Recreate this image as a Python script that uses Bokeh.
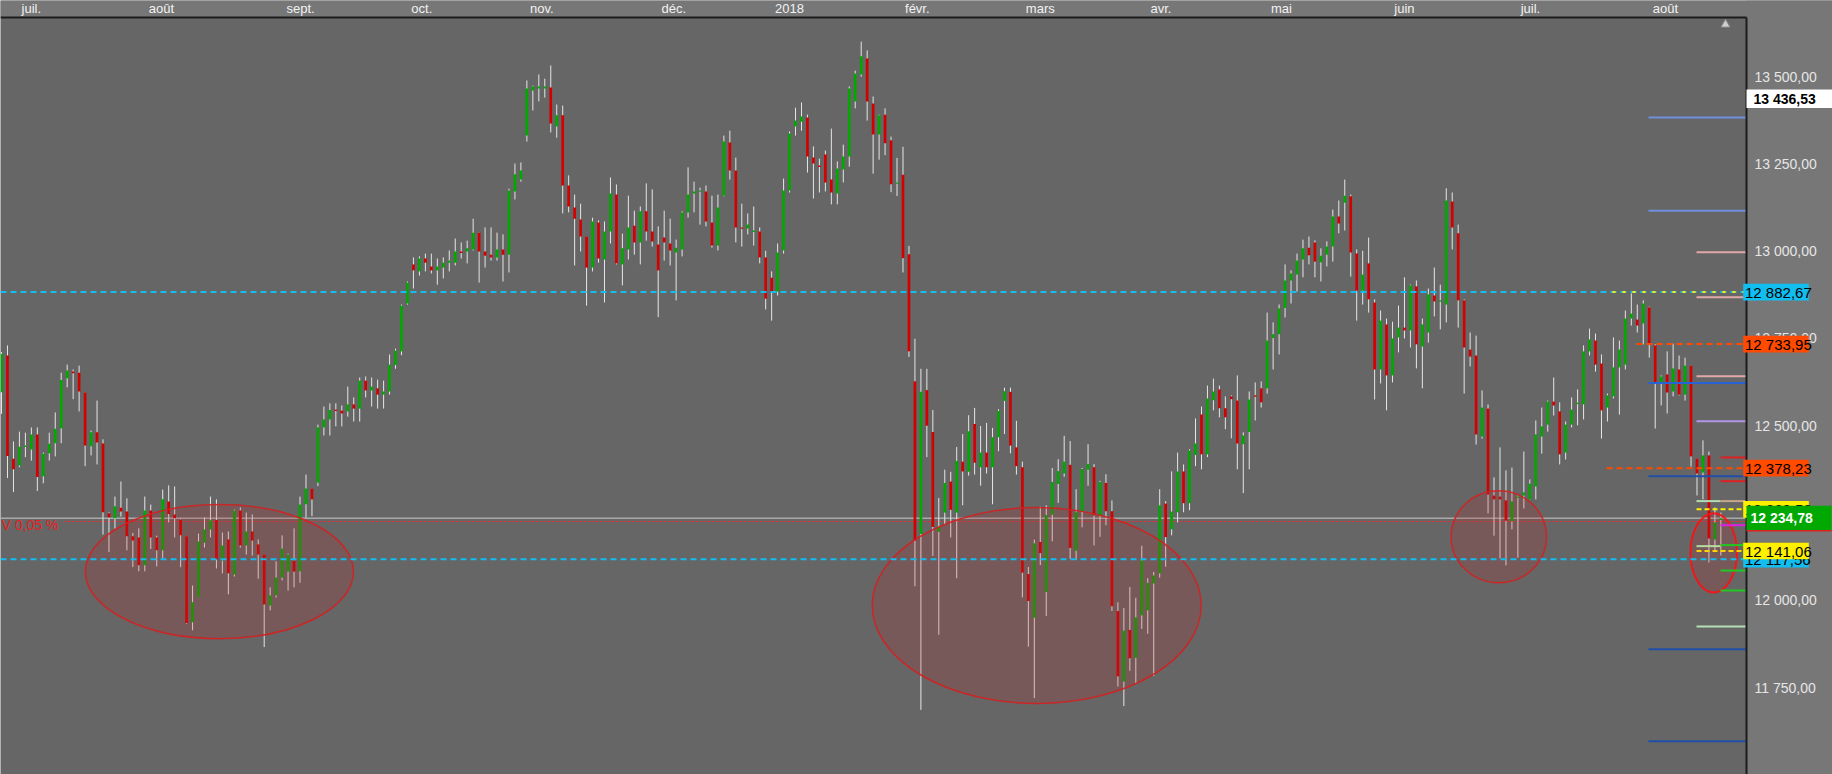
from bokeh.plotting import figure
from bokeh.models import ColumnDataSource, Range1d
from bokeh.core.properties import value
from bokeh.embed import file_html
from bokeh.resources import INLINE

# ---- daily OHLC, July 2017 -> August 2018 ----
opens = [
    12596, 12701, 12405, 12386, 12441, 12432, 12475, 12355, 12421, 12450,
    12493, 12636, 12655, 12652, 12595, 12441, 12481, 12449, 12249, 12235,
    12265, 12254, 12183, 12180, 12100, 12257, 12180, 12143, 12283, 12246,
    12231, 12183, 11937, 12009, 12165, 12203, 12230, 12114, 12174, 12074,
    12257, 12157, 12197, 12160, 12131, 11985, 12014, 12065, 12082, 12114,
    12083, 12275, 12320, 12337, 12495, 12518, 12546, 12543, 12541, 12561,
    12549, 12629, 12601, 12607, 12589, 12598, 12674, 12713, 12850, 12962,
    12942, 12979, 12956, 12945, 12953, 12967, 12967, 12999, 12999, 13005,
    13053, 12999, 12990, 12982, 13005, 12990, 13171, 13205, 13331, 13460,
    13466, 13466, 13469, 13357, 13389, 13188, 13125, 13091, 13042, 12953,
    13082, 12976, 13056, 13162, 12962, 13005, 13073, 13025, 13114, 13056,
    13019, 13039, 13022, 12996, 13005, 13111, 13165, 13171, 13171, 13082,
    13016, 13159, 13311, 13231, 13068, 13065, 13056, 13056, 12982, 12924,
    12884, 13002, 13174, 13357, 13371, 13383, 13268, 13245, 13277, 13205,
    13165, 13234, 13271, 13429, 13506, 13552, 13423, 13334, 13391, 13318,
    13194, 13219, 12991, 12627, 12190, 12602, 12482, 12196, 12251, 12340,
    12251, 12397, 12368, 12505, 12381, 12423, 12381, 12467, 12571, 12597,
    12438, 12381, 12075, 11950, 12167, 12024, 12245, 12333, 12363, 12388,
    12142, 12253, 12374, 12381, 12241, 12336, 12255, 11969, 11767, 11915,
    11835, 11957, 11971, 12048, 12077, 12277, 12203, 12252, 12369, 12278,
    12416, 12532, 12418, 12573, 12604, 12550, 12584, 12572, 12447, 12482,
    12587, 12607, 12607, 12751, 12762, 12837, 12916, 12933, 12976, 13010,
    13025, 12968, 12990, 13013, 13099, 13139, 13157, 12993, 12887, 12965,
    12853, 12661, 12790, 12644, 12753, 12781, 12773, 12899, 12727, 12767,
    12873, 12856, 12847, 13142, 13051, 12859, 12718, 12701, 12469, 12549,
    12300, 12297, 12286, 12226, 12293, 12300, 12289, 12326, 12469, 12503,
    12569, 12541, 12423, 12503, 12564, 12561, 12713, 12744, 12678, 12552,
    12584, 12667, 12675, 12807, 12804, 12793, 12839, 12730, 12621, 12647,
    12598, 12661, 12589, 12672, 12406, 12366, 12415, 12174, 12230,
]
highs = [
    12711, 12730, 12455, 12483, 12480, 12495, 12495, 12423, 12480, 12538,
    12652, 12675, 12661, 12672, 12595, 12486, 12572, 12461, 12252, 12297,
    12340, 12292, 12193, 12206, 12297, 12274, 12185, 12317, 12329, 12326,
    12234, 12183, 12042, 12191, 12237, 12297, 12289, 12194, 12197, 12260,
    12266, 12251, 12246, 12174, 12131, 12037, 12111, 12186, 12134, 12206,
    12297, 12360, 12320, 12503, 12555, 12564, 12564, 12558, 12612, 12581,
    12638, 12641, 12638, 12632, 12629, 12704, 12721, 12847, 12913, 12982,
    12985, 12993, 12993, 12979, 12982, 13002, 13036, 13025, 13030, 13093,
    13053, 13068, 13068, 13053, 13048, 13179, 13251, 13254, 13489, 13474,
    13506, 13494, 13532, 13420, 13417, 13217, 13162, 13136, 13042, 13096,
    13088, 13085, 13211, 13191, 13050, 13159, 13116, 13128, 13194, 13177,
    13071, 13116, 13093, 13033, 13114, 13240, 13199, 13182, 13188, 13159,
    13162, 13331, 13345, 13268, 13136, 13108, 13128, 13068, 13001, 12942,
    13022, 13208, 13343, 13411, 13426, 13391, 13300, 13265, 13288, 13351,
    13257, 13305, 13472, 13517, 13600, 13575, 13443, 13391, 13409, 13328,
    13267, 13299, 13015, 12749, 12663, 12663, 12545, 12293, 12374, 12368,
    12439, 12476, 12530, 12551, 12499, 12508, 12494, 12547, 12609, 12609,
    12514, 12397, 12095, 12174, 12268, 12272, 12379, 12404, 12471, 12456,
    12318, 12379, 12447, 12390, 12342, 12361, 12286, 11994, 11978, 12038,
    12007, 12156, 12063, 12081, 12318, 12284, 12369, 12423, 12389, 12433,
    12521, 12555, 12615, 12635, 12615, 12584, 12587, 12644, 12481, 12598,
    12624, 12627, 12824, 12796, 12847, 12962, 12945, 12993, 13033, 13042,
    13031, 13008, 13028, 13119, 13145, 13205, 13162, 13005, 13001, 13039,
    12862, 12830, 12807, 12798, 12844, 12925, 12904, 12916, 12807, 12893,
    12953, 12904, 13180, 13168, 13076, 12862, 12767, 12758, 12601, 12561,
    12352, 12438, 12372, 12380, 12300, 12426, 12346, 12515, 12552, 12572,
    12638, 12567, 12512, 12581, 12604, 12730, 12778, 12764, 12704, 12592,
    12753, 12744, 12830, 12879, 12847, 12859, 12841, 12733, 12644, 12713,
    12735, 12701, 12695, 12672, 12406, 12458, 12426, 12266, 12251,
]
lows = [
    12534, 12350, 12310, 12381, 12410, 12400, 12313, 12335, 12400, 12412,
    12450, 12610, 12576, 12541, 12384, 12415, 12389, 12188, 12138, 12205,
    12240, 12143, 12095, 12083, 12083, 12147, 12097, 12120, 12223, 12180,
    12095, 11933, 11914, 12009, 12151, 12180, 12091, 12077, 12017, 12068,
    12151, 12131, 12128, 12062, 11866, 11971, 12008, 12057, 12028, 12037,
    12050, 12237, 12241, 12327, 12472, 12472, 12498, 12498, 12526, 12512,
    12512, 12581, 12555, 12549, 12549, 12589, 12663, 12702, 12847, 12893,
    12930, 12942, 12936, 12904, 12922, 12942, 12959, 12979, 12965, 13002,
    12910, 12953, 12973, 12973, 12913, 12939, 13148, 13199, 13314, 13403,
    13429, 13440, 13340, 13325, 13108, 13111, 12959, 12999, 12844, 12942,
    12967, 12853, 13022, 12962, 12902, 12976, 12990, 12962, 13030, 13013,
    12811, 12973, 12959, 12859, 12985, 13096, 13111, 13076, 13071, 13010,
    13002, 13157, 13205, 13025, 13013, 13048, 13016, 12965, 12833, 12801,
    12873, 12993, 13168, 13331, 13345, 13225, 13151, 13168, 13171, 13134,
    13134, 13197, 13242, 13409, 13500, 13374, 13222, 13262, 13275, 13169,
    13158, 12939, 12697, 12040, 11686, 12410, 12127, 11901, 12216, 12180,
    12063, 12272, 12357, 12360, 12328, 12363, 12275, 12427, 12476, 12421,
    12360, 12008, 11867, 11720, 12101, 11955, 12169, 12279, 12354, 12118,
    12116, 12209, 12328, 12157, 12182, 12215, 11969, 11753, 11697, 11798,
    11761, 11918, 11904, 11783, 12065, 12096, 12186, 12223, 12252, 12258,
    12384, 12375, 12410, 12544, 12524, 12490, 12464, 12375, 12307, 12375,
    12515, 12552, 12592, 12661, 12704, 12810, 12850, 12884, 12925, 12962,
    12925, 12913, 12956, 12970, 13051, 13059, 12927, 12801, 12847, 12824,
    12575, 12621, 12544, 12624, 12710, 12750, 12724, 12664, 12607, 12738,
    12813, 12776, 12796, 13005, 12781, 12592, 12670, 12446, 12463, 12249,
    12185, 12120, 12100, 12203, 12122, 12263, 12289, 12289, 12420, 12483,
    12529, 12389, 12403, 12495, 12501, 12518, 12701, 12655, 12463, 12512,
    12578, 12532, 12661, 12787, 12767, 12733, 12695, 12492, 12558, 12535,
    12584, 12587, 12572, 12383, 12300, 12289, 12108, 12140, 12128,
]
closes = [
    12706, 12413, 12375, 12440, 12443, 12475, 12353, 12420, 12448, 12491,
    12631, 12658, 12650, 12598, 12443, 12481, 12452, 12252, 12237, 12269,
    12254, 12183, 12171, 12100, 12257, 12180, 12143, 12289, 12247, 12235,
    12186, 11935, 11994, 12168, 12203, 12229, 12117, 12157, 12077, 12257,
    12157, 12197, 12171, 12131, 11988, 12014, 12065, 12148, 12131, 12082,
    12274, 12320, 12289, 12495, 12518, 12545, 12543, 12535, 12561, 12549,
    12629, 12601, 12612, 12589, 12598, 12675, 12715, 12844, 12910, 12945,
    12979, 12967, 12945, 12956, 12967, 12973, 12999, 12996, 13008, 13053,
    12999, 12987, 12982, 13005, 12990, 13174, 13220, 13231, 13466, 13472,
    13472, 13472, 13366, 13389, 13188, 13128, 13093, 13042, 12953, 13085,
    12979, 13056, 13165, 12965, 13008, 13068, 13025, 13114, 13056, 13028,
    12945, 13025, 13002, 13010, 13111, 13162, 13171, 13174, 13085, 13016,
    13125, 13314, 13231, 13068, 13065, 13076, 13059, 12982, 12864, 12884,
    12996, 13174, 13337, 13374, 13386, 13271, 13251, 13242, 13197, 13168,
    13237, 13271, 13466, 13509, 13558, 13429, 13334, 13389, 13309, 13192,
    13197, 12980, 12713, 12171, 12597, 12500, 12210, 12210, 12336, 12259,
    12399, 12369, 12484, 12394, 12423, 12381, 12467, 12542, 12599, 12443,
    12384, 12079, 11998, 12163, 12135, 12244, 12339, 12370, 12397, 12150,
    12252, 12376, 12390, 12243, 12339, 12255, 11983, 11782, 11913, 11834,
    11951, 12114, 12050, 12071, 12272, 12181, 12254, 12369, 12278, 12429,
    12449, 12418, 12578, 12598, 12550, 12524, 12576, 12449, 12472, 12575,
    12584, 12567, 12744, 12762, 12836, 12916, 12936, 12973, 13008, 12988,
    12970, 12987, 13013, 13099, 13079, 13159, 12996, 12887, 12933, 12862,
    12661, 12801, 12644, 12750, 12781, 12773, 12902, 12733, 12790, 12876,
    12856, 12859, 13145, 13068, 12859, 12724, 12698, 12475, 12552, 12303,
    12289, 12289, 12228, 12283, 12297, 12309, 12334, 12475, 12498, 12569,
    12558, 12418, 12503, 12546, 12566, 12713, 12747, 12675, 12544, 12587,
    12667, 12718, 12807, 12821, 12787, 12850, 12735, 12621, 12641, 12595,
    12664, 12589, 12672, 12412, 12363, 12415, 12177, 12223, 12235,
]

# month captions along the top (position in bars)
month_names = ["juil.", "août", "sept.", "oct.", "nov.", "déc.", "2018",
               "févr.", "mars", "avr.", "mai", "juin", "juil.", "août"]
month_pos = [6.0, 27.8, 51.1, 71.4, 91.5, 113.6, 133.0,
             154.4, 175.0, 195.2, 215.4, 236.0, 257.1, 279.7]

price_ticks = [11750, 12000, 12250, 12500, 12750, 13000, 13250, 13500]

# marked price levels
support_high = 12882.67
support_low = 12117.56
last_price = 13436.53
current_price = 12234.78
level_orange = [12733.95, 12378.23]
level_yellow = [12260.53, 12141.06]
variation_level = 12225.5

# short pivot levels on the right edge
pivot_levels = [13383, 13116, 12997, 12868, 12642, 12622, 12513, 12409, 12355, 12341,
                12284, 12284, 12215, 12155, 12158, 12085, 12028, 11925, 11860, 11596]

# ---- canvas geometry: the frame covers the whole canvas, the price scale
# and the date band are painted inside it ----
W, H = 1832, 774
PLOT_R = 1746          # right edge of the chart area (px)
BAND_H = 17            # height of the date band (px)
PX_PER_BAR = 5.97
PTS_PER_PX = 2.8645
X_START = 0.83
X_END = X_START + W / PX_PER_BAR
Y_END = 13718.0
Y_START = Y_END - H * PTS_PER_PX


def bx(px):
    """horizontal pixel -> bar units"""
    return X_START + px / PX_PER_BAR


def vy(py):
    """vertical pixel (from top) -> price"""
    return Y_END - py * PTS_PER_PX


def fmt(v):
    return f"{v:,.2f}".replace(",", " ").replace(".", ",")


BG = "#666666"
PANEL = "#777777"
EDGE = "#1c1c1c"
GREEN = "#00a800"
RED = "#d20000"
CYAN = "#12bdf0"
ORANGE = "#ff4a00"
YELLOW = "#fff000"
FONT = value("Liberation Sans")

p = figure(width=W, height=H, output_backend="svg", toolbar_location=None,
           x_range=Range1d(X_START, X_END), y_range=Range1d(Y_START, Y_END),
           x_axis_location=None, y_axis_location=None, min_border=0)
p.background_fill_color = BG
p.border_fill_color = PANEL
p.outline_line_color = None
p.grid.visible = False

X_R = bx(PLOT_R)

# ---- reference lines under the candles ----
p.segment(x0=[X_START], x1=[X_R], y0=[current_price], y1=[current_price],
          line_color="#a9a9a9", line_width=1.5)
p.segment(x0=[bx(64)], x1=[X_R], y0=[variation_level], y1=[variation_level],
          line_color="#ff2424", line_width=1, line_dash="2 2")

# ---- candles ----
bar_x = list(range(1, len(closes) + 1))
body_top, body_bot, body_col = [], [], []
for o, c in zip(opens, closes):
    t, b = max(o, c), min(o, c)
    if t - b < 4:
        b = t - 4
    body_top.append(t)
    body_bot.append(b)
    body_col.append(GREEN if c >= o else RED)

src = ColumnDataSource(dict(x=bar_x, o=opens, h=highs, l=lows, c=closes,
                            top=body_top, bottom=body_bot, color=body_col))
p.segment(x0="x", x1="x", y0="l", y1="h", source=src, line_color="#e6e6e6", line_width=1)
p.vbar(x="x", width=0.45, top="top", bottom="bottom", source=src,
       fill_color="color", line_color=None)

# ---- highlighted zones ----
zones = [
    (37.5, 12082, 44.9, 384, "#d42020", 1.5),
    (174.4, 11985, 55.1, 561, "#d42020", 1.5),
    (251.8, 12182, 16.0, 264, "#d42020", 1.5),
    (287.8, 12136, 7.8, 227, "#ff1010", 2.0),
]
p.ellipse(x=[z[0] for z in zones], y=[z[1] for z in zones],
          width=[z[2] for z in zones], height=[z[3] for z in zones],
          fill_color="#c02828", fill_alpha=0.2,
          line_color=[z[4] for z in zones], line_width=[z[5] for z in zones], line_alpha=0.9)

# ---- dashed support / resistance levels ----
for lvl in (support_high, support_low):
    p.segment(x0=[X_START], x1=[X_R], y0=[lvl], y1=[lvl],
              line_color=CYAN, line_width=2, line_dash="6 4")
p.segment(x0=[bx(1606)], x1=[X_R], y0=[support_high], y1=[support_high],
          line_color=YELLOW, line_width=2, line_dash="3 7", line_dash_offset=-6)
for lvl, start in zip(level_orange, (1636, 1606)):
    p.segment(x0=[bx(start)], x1=[X_R], y0=[lvl], y1=[lvl],
              line_color=ORANGE, line_width=2, line_dash="6 4")
for lvl, col in zip(level_yellow, ("#fff000", "#ffd200")):
    p.segment(x0=[bx(1696)], x1=[X_R], y0=[lvl], y1=[lvl],
              line_color=col, line_width=2, line_dash="5 3")

# ---- pivot stubs ----
pivot_style = [
    ("#6f8fdc", 1648, 1746), ("#6f8fdc", 1648, 1746), ("#e0a8a8", 1696, 1746),
    ("#e0a8a8", 1696, 1746), ("#e0a8a8", 1696, 1746), ("#2563d6", 1648, 1746),
    ("#b397e6", 1696, 1746), ("#e02020", 1720, 1746), ("#1f4fa8", 1648, 1746),
    ("#e02020", 1720, 1746), ("#b4dcb4", 1696, 1720), ("#c9a88a", 1720, 1746),
    ("#e020e0", 1720, 1746), ("#b4dca0", 1696, 1720), ("#20c820", 1720, 1746),
    ("#20c820", 1720, 1746), ("#20c820", 1720, 1746), ("#b4e0b4", 1696, 1746),
    ("#1f4fa8", 1648, 1746), ("#1f4fa8", 1648, 1746),
]
p.segment(x0=[bx(s[1]) for s in pivot_style], x1=[bx(s[2]) for s in pivot_style],
          y0=pivot_levels, y1=pivot_levels,
          line_color=[s[0] for s in pivot_style], line_width=2)

# variation caption at the left edge
p.text(x=[bx(1)], y=[variation_level - 3 * PTS_PER_PX], text=["V 0,05 %"],
       text_color="#e82020", text_font=FONT, text_font_size="14px",
       text_baseline="middle", text_align="left")

# ---- price scale panel ----
p.quad(left=[X_R], right=[X_END], top=[Y_END], bottom=[Y_START],
       fill_color=PANEL, line_color=None)
p.text(x=[bx(1754)] * len(price_ticks), y=price_ticks, text=[fmt(t) for t in price_ticks],
       text_color="#e6e6e6", text_font=FONT, text_font_size="14px",
       text_baseline="middle", text_align="left")

# ---- date band ----
p.quad(left=[X_START], right=[X_END], top=[Y_END], bottom=[vy(BAND_H)],
       fill_color=PANEL, line_color=None)
p.text(x=month_pos, y=[vy(8)] * len(month_pos), text=month_names,
       text_color="#f2f2f2", text_font=FONT, text_font_size="13px",
       text_baseline="middle", text_align="center")

# frame edges
p.segment(x0=[X_START], x1=[X_R], y0=[vy(BAND_H)], y1=[vy(BAND_H)], line_color=EDGE, line_width=2)
p.segment(x0=[X_R], x1=[X_R], y0=[Y_START], y1=[vy(BAND_H)], line_color=EDGE, line_width=2)

# alert marker at the top edge
p.scatter(x=[bx(1725)], y=[vy(24)], marker="triangle", size=9,
          fill_color="#cfcfcf", line_color="#8a8a8a")

# ---- price tags ----
def tag(level, fill, txt_color, x_left, x_right, height_px, text_x, size, bold=False):
    half = height_px / 2 * PTS_PER_PX
    p.quad(left=[bx(x_left)], right=[bx(x_right)], top=[level + half], bottom=[level - half],
           fill_color=fill, line_color=None)
    p.text(x=[bx(text_x)], y=[level], text=[fmt(level)], text_color=txt_color,
           text_font=FONT, text_font_size=size, text_font_style="bold" if bold else "normal",
           text_baseline="middle", text_align="left")
    return half


for lvl, col in [(support_high, CYAN), (level_orange[0], ORANGE), (level_orange[1], ORANGE),
                 (level_yellow[0], YELLOW), (support_low, CYAN), (level_yellow[1], YELLOW)]:
    tag(lvl, col, "#000000", 1742.7, 1808.3, 16.7, 1744.5, "15px")

half = tag(current_price, "#00a800", "#ffffff", 1746, 1831, 25, 1750, "14px", bold=True)
p.segment(x0=[X_R], x1=[bx(1831)], y0=[current_price - half], y1=[current_price - half],
          line_color="#e02020", line_width=1.5)
tag(last_price, "#ffffff", "#000000", 1746, 1832, 18.7, 1753, "14px", bold=True)

open("out.html", "w").write(file_html(p, INLINE))
